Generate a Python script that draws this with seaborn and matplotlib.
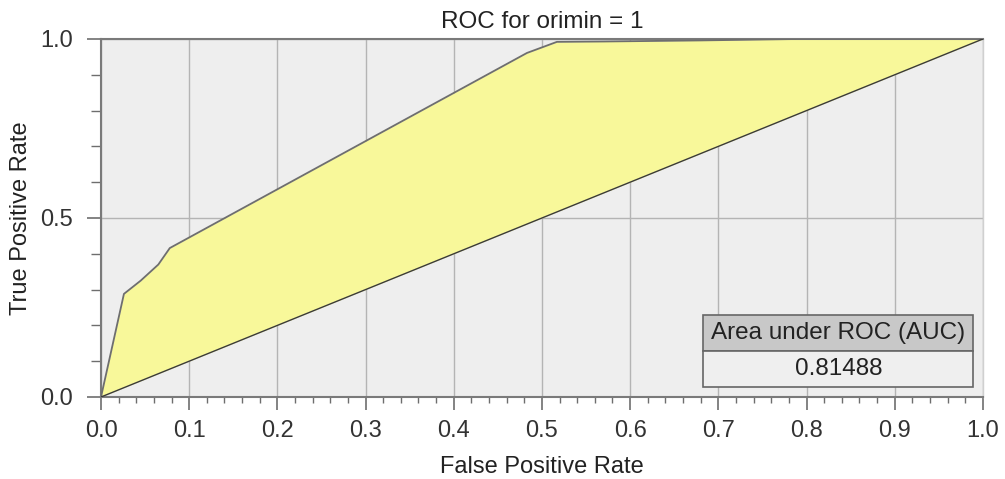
"""ROC curve with shaded area above the chance diagonal, saved to out.png"""

import matplotlib.pyplot as plt
import seaborn as sns
import pandas as pd
import numpy as np

# ROC curve
fpr = [0.0, 0.026, 0.045, 0.065, 0.078, 0.483, 0.517, 0.57, 0.68, 0.79, 1.0]
tpr = [0.0, 0.288, 0.325, 0.37, 0.416, 0.961, 0.992, 0.993, 0.996, 1.0, 1.0]
chance = [0.0, 1.0]
auc_label = "Area under ROC (AUC)"
auc_value = "0.81488"
x_ticks = [0.0, 0.1, 0.2, 0.3, 0.4, 0.5, 0.6, 0.7, 0.8, 0.9, 1.0]
y_ticks = [0.0, 0.5, 1.0]

sns.set_style("white")
plt.rcParams["font.family"] = ["Liberation Sans", "DejaVu Sans"]

roc = pd.DataFrame({"fpr": fpr, "tpr": tpr})
diag = pd.DataFrame({"fpr": chance, "tpr": chance})

fig = plt.figure(figsize=(10.05, 4.79), dpi=100)
ax = fig.add_axes([0.1005, 0.1712, 0.8775, 0.7474])
ax.set_facecolor("#eeeeee")

# yellow band between curve and diagonal
grid_x = np.array(sorted(set(fpr) | set(chance)))
curve_y = np.interp(grid_x, fpr, tpr)
ax.fill_between(grid_x, grid_x, curve_y, color="#f8f89a", lw=0, zorder=2)

sns.lineplot(data=roc, x="fpr", y="tpr", ax=ax, color="#6e6e6e", lw=1.3,
             sort=False, zorder=3)
sns.lineplot(data=diag, x="fpr", y="tpr", ax=ax, color="#3a3a3a", lw=1.0,
             zorder=3)

ax.set_xlim(0, 1)
ax.set_ylim(0, 1)
ax.set_xticks(x_ticks)
ax.set_yticks(y_ticks)
ax.set_xticks(np.arange(0, 1.001, 0.02), minor=True)
ax.set_yticks(np.arange(0, 1.001, 0.1), minor=True)
ax.set_xticklabels([f"{v:.1f}" for v in x_ticks])
ax.set_yticklabels([f"{v:.1f}" for v in y_ticks])
ax.tick_params(axis="both", which="major", direction="out", width=1.2,
               color="#6e6e6e", labelsize=17, labelcolor="#333333")
ax.tick_params(axis="x", which="major", length=9.5, pad=7, bottom=True)
ax.tick_params(axis="y", which="major", length=10, pad=10, left=True)
ax.tick_params(axis="x", which="minor", direction="out", length=4.5,
               width=1.0, color="#6e6e6e", bottom=True)
ax.tick_params(axis="y", which="minor", direction="out", length=7,
               width=1.0, color="#6e6e6e", left=True)
ax.grid(True, which="major", color="#b4b4b4", lw=1.0, zorder=1)
ax.set_axisbelow(True)

for side in ["left", "bottom", "top"]:
    ax.spines[side].set_color("#7a7a7a")
    ax.spines[side].set_linewidth(1.5)
ax.spines["right"].set_color("#d0d0d0")
ax.spines["right"].set_linewidth(1.0)

ax.set_xlabel("False Positive Rate", fontsize=17, color="#222222", labelpad=10)
ax.set_ylabel("True Positive Rate", fontsize=17, color="#222222", labelpad=6)
ax.set_title("ROC for orimin = 1", fontsize=17.5, color="#222222", pad=8)

# AUC box in the lower right
table = ax.table(cellText=[[auc_label], [auc_value]],
                 bbox=[0.683, 0.028, 0.306, 0.2], cellLoc="center")
table.auto_set_font_size(False)
for (r, c), cell in table.get_celld().items():
    cell.set_edgecolor("#666666")
    cell.set_linewidth(1.2)
    cell.get_text().set_fontsize(17.5)
    cell.get_text().set_color("#222222")
    cell.set_facecolor("#c8c8c8" if r == 0 else "#efefef")
table.set_zorder(5)

fig.savefig("out.png", dpi=100)
plt.close(fig)
